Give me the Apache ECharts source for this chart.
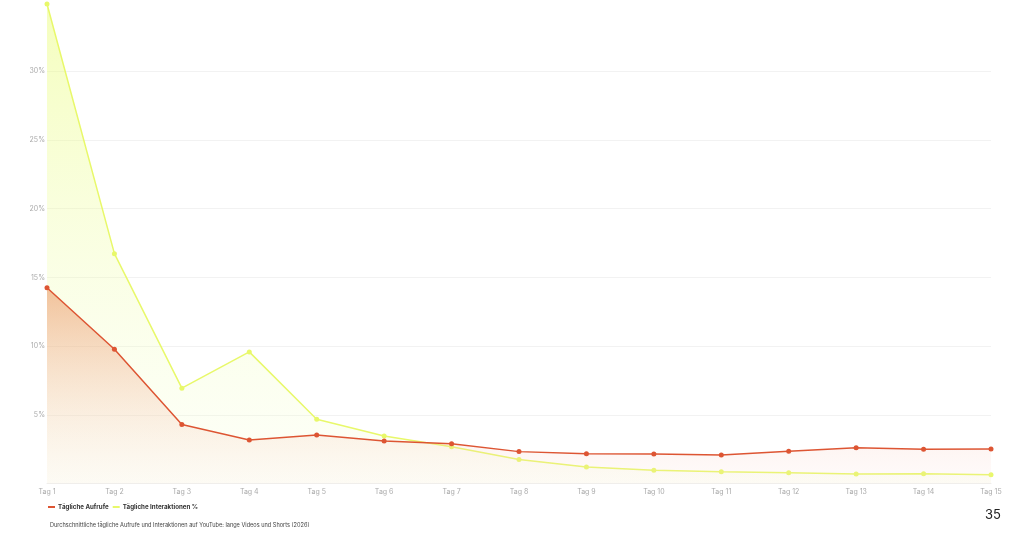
<!DOCTYPE html>
<html>
<head>
<meta charset="utf-8">
<script src="https://cdn.jsdelivr.net/npm/echarts@6/dist/echarts.min.js"></script>
<style>
html,body{margin:0;padding:0;background:#fff;}
#c{width:1024px;height:545px;}
</style>
</head>
<body>
<div id="c"></div>
<script>
const categories = ['Tag 1','Tag 2','Tag 3','Tag 4','Tag 5','Tag 6','Tag 7','Tag 8','Tag 9','Tag 10','Tag 11','Tag 12','Tag 13','Tag 14','Tag 15'];
const aufrufe = [14.25, 9.77, 4.3, 3.17, 3.53, 3.1, 2.9, 2.32, 2.17, 2.15, 2.08, 2.35, 2.61, 2.49, 2.51];
const interaktionen = [34.9, 16.73, 6.94, 9.58, 4.68, 3.46, 2.68, 1.74, 1.2, 0.96, 0.86, 0.79, 0.69, 0.71, 0.64];
const seriesNames = ['Tägliche Aufrufe', 'Tägliche Interaktionen %'];
const caption = 'Durchschnittliche tägliche Aufrufe und Interaktionen auf YouTube: lange Videos und Shorts (2026)';
const pageNumber = '35';

const FONT = 'Inter, "Noto Sans", sans-serif';
const chart = echarts.init(document.getElementById('c'));
chart.setOption({
  animation: false,
  backgroundColor: '#ffffff',
  textStyle: { fontFamily: FONT },
  grid: { left: 47, right: 33, top: 4, bottom: 61.5, containLabel: false },
  title: [
    { text: caption, left: 45, top: 517, padding: 5, textStyle: { fontSize: 5.6, fontWeight: 'normal', color: '#444', fontFamily: FONT } },
    { text: pageNumber, left: 980, top: 504, padding: 5, textStyle: { fontSize: 13, fontWeight: 'normal', color: '#222', fontFamily: FONT } }
  ],
  legend: {
    data: seriesNames,
    left: 43, top: 499,
    icon: 'rect', itemWidth: 7, itemHeight: 2, itemGap: 4,
    textStyle: { fontSize: 6.2, fontWeight: 'bold', color: '#333', fontFamily: FONT, padding: [0,0,0,-2] }
  },
  xAxis: {
    type: 'category', data: categories, boundaryGap: false,
    axisLine: { show: true, lineStyle: { color: '#eeeeee', width: 1 } },
    axisTick: { show: false },
    axisLabel: { fontSize: 7, color: '#aaaaaa', margin: 5, fontFamily: FONT }
  },
  yAxis: {
    type: 'value', min: 0, max: function(v){ return v.max; }, interval: 5,
    axisLine: { show: false }, axisTick: { show: false },
    axisLabel: { fontSize: 7, color: '#aaaaaa', margin: 2, formatter: '{value}%', showMinLabel: false, showMaxLabel: false, fontFamily: FONT },
    splitLine: { show: true, showMaxLine: false, lineStyle: { color: '#f2f2f2', width: 1 } }
  },
  series: [
    {
      name: seriesNames[1], type: 'line', data: interaktionen,
      symbol: 'circle', symbolSize: 5, z: 2,
      lineStyle: { color: '#e8f86a', width: 1.5 },
      itemStyle: { color: '#e8f86a' },
      areaStyle: { color: new echarts.graphic.LinearGradient(0,0,0,1,[
        { offset: 0, color: 'rgba(232,252,110,0.65)' },
        { offset: 1, color: 'rgba(245,255,215,0.25)' }
      ]) }
    },
    {
      name: seriesNames[0], type: 'line', data: aufrufe,
      symbol: 'circle', symbolSize: 5, z: 3,
      lineStyle: { color: '#dd5533', width: 1.5 },
      itemStyle: { color: '#dd5533' },
      areaStyle: { color: new echarts.graphic.LinearGradient(0,0,0,1,[
        { offset: 0, color: 'rgba(232,135,80,0.72)' },
        { offset: 1, color: 'rgba(250,215,210,0.15)' }
      ]) }
    }
  ]
});
</script>
</body>
</html>
